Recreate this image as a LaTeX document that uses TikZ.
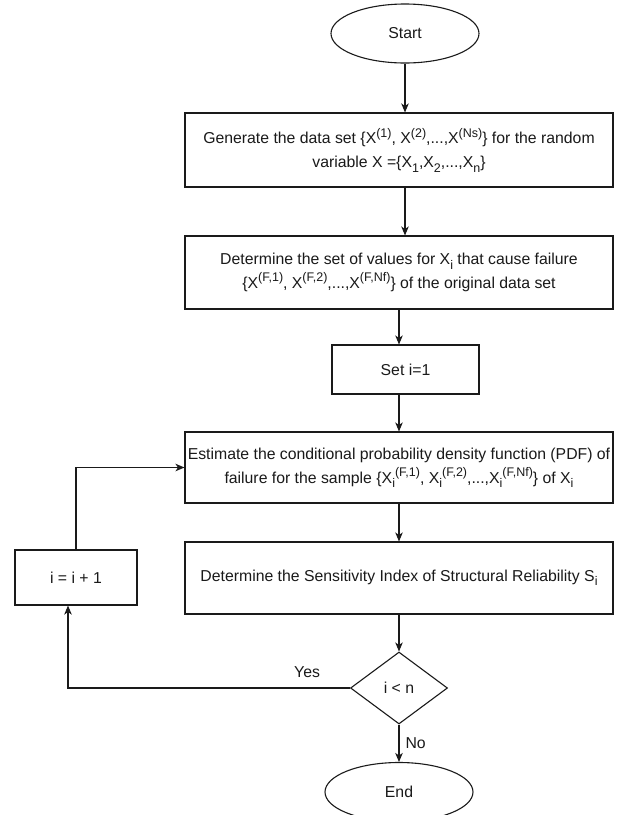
\documentclass[tikz,border=0pt]{standalone}
\usepackage{fontspec}
\setmainfont{Liberation Sans}
\usetikzlibrary{arrows.meta,shapes.geometric}
\definecolor{ink}{HTML}{1A1A1A}
\newcommand\mysup[1]{\raisebox{0.42em}{\fontsize{12.5}{12.5}\selectfont #1}}
\newcommand\mysub[1]{\raisebox{-0.28em}{\fontsize{12.5}{12.5}\selectfont #1}}
\begin{document}
\begin{tikzpicture}[x=1pt,y=-1pt,
  every node/.style={font=\fontsize{15.8}{24}\selectfont, text=ink},
  ln/.style={draw=ink, line width=1.1pt},
  box/.style={ln, rectangle, align=center, inner sep=0pt},
  term/.style={ln, ellipse, inner sep=0pt, minimum width=148pt, minimum height=59pt},
  dec/.style={ln, diamond, inner sep=0pt, minimum width=97pt, minimum height=72pt},
  arr/.style={ln, -{Stealth[length=9pt,width=7.5pt,inset=2.5pt]}},
  lbl/.style={inner sep=0pt}]
\fill[white] (0,0) rectangle (624,815);
\useasboundingbox (0,0) rectangle (624,815);

\node[term] (start) at (405,33.5) {Start};
\node[box, minimum width=428pt, minimum height=74pt] (b1) at (399,150)
  {Generate the data set \{X\mysup{(1)}, X\mysup{(2)},...,X\mysup{(Ns)}\} for the random\\
   variable X =\{X\mysub{1},X\mysub{2},...,X\mysub{n}\}};
\node[box, minimum width=428pt, minimum height=73pt] (b2) at (399,272.5)
  {Determine the set of values for X\mysub{i} that cause failure\\
   \{X\mysup{(F,1)}, X\mysup{(F,2)},...,X\mysup{(F,Nf)}\} of the original data set};
\node[box, minimum width=147pt, minimum height=49pt] (setn) at (405.5,369.5) {Set i=1};
\node[box, minimum width=428pt, minimum height=71pt] (b3) at (399,467.5)
  {Estimate the conditional probability density function (PDF) of\\
   failure for the sample \{X\mysub{i}\mysup{(F,1)}, X\mysub{i}\mysup{(F,2)},...,X\mysub{i}\mysup{(F,Nf)}\} of X\mysub{i}};
\node[box, minimum width=428pt, minimum height=72pt] (b4) at (399,578)
  {Determine the Sensitivity Index of Structural Reliability S\mysub{i}};
\node[box, minimum width=122pt, minimum height=55pt] (inc) at (76,577.5) {i = i + 1};
\node[dec] (dia) at (399,688) {i < n};
\node[term] (endn) at (399,792) {End};

\draw[arr] (start.south) -- (start.south |- b1.north);
\draw[arr] (b1.south -| start.south) -- (b2.north -| start.south);
\draw[arr] (b2.south) -- (b2.south |- setn.north);
\draw[arr] (setn.south -| b3.north) -- (b3.north);
\draw[arr] (b3.south) -- (b4.north);
\draw[arr] (b4.south) -- (dia.north);
\draw[arr] (dia.south) -- node[lbl, right=6pt] {No} (endn.north);
\draw[arr] (dia.west) -| ([xshift=-8pt]inc.south) node[lbl, pos=0.076, above=10pt] {Yes};
\draw[arr] (inc.north) |- (b3.west);
\end{tikzpicture}
\end{document}
